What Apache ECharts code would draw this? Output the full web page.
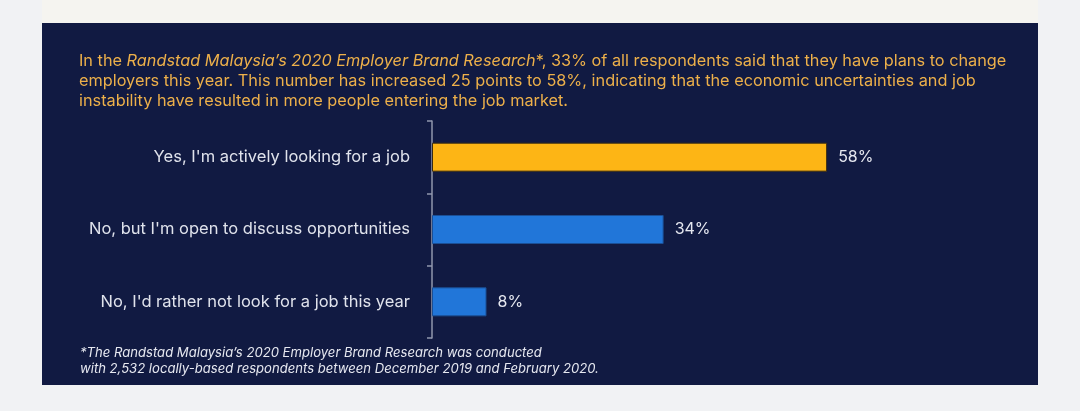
<!DOCTYPE html>
<html lang="en">
<head>
    <meta charset="UTF-8">
    <script src="https://cdn.jsdelivr.net/npm/echarts@6/dist/echarts.min.js"></script>
    <title>Employer Brand Research</title>
    <style>
        html, body { margin: 0; padding: 0; background: #f1f2f4; }
    </style>
</head>
<body>
<div id="main" style="width: 1080px;height: 411px"></div>
<script type="text/javascript">
    // data
    var categories = ["Yes, I'm actively looking for a job", "No, but I'm open to discuss opportunities", "No, I'd rather not look for a job this year"];
    var values = [58, 34, 8];
    var barColors = ['#fdb515', '#2176d9', '#2176d9'];

    var myChart = echarts.init(document.getElementById("main"));

    myChart.setOption({
        backgroundColor: '#f1f2f4',
        animation: false,
        textStyle: { fontFamily: 'Inter' },
        graphic: [
            { type: 'rect', z: -10, shape: { x: 42, y: 0, width: 996, height: 23 }, style: { fill: '#f5f4f0' } },
            { type: 'rect', z: -10, shape: { x: 42, y: 23, width: 996, height: 362 }, style: { fill: '#111a42' } },
            {
                type: 'text', left: 80, top: 345,
                style: {
                    text: "*The Randstad Malaysia\u2019s 2020 Employer Brand Research was conducted\nwith 2,532 locally-based respondents between December 2019 and February 2020.",
                    fill: '#e6e8f0', font: 'italic 13.1px Inter', lineHeight: 16
                }
            }
        ],
        title: {
            left: 74, top: 46,
            text: "In the {i|Randstad Malaysia\u2019s 2020 Employer Brand Research}*, 33% of all respondents said that they have plans to change\nemployers this year. This number has increased 25 points to 58%, indicating that the economic uncertainties and job\ninstability have resulted in more people entering the job market.",
            textStyle: {
                color: '#edb04a', fontSize: 16.3, fontWeight: 'normal', lineHeight: 20, fontFamily: 'Inter',
                rich: { i: { fontStyle: 'italic', color: '#edb04a', fontSize: 16.3, lineHeight: 20, fontFamily: 'Inter' } }
            }
        },
        grid: { left: 432, top: 121, height: 217, width: 545 },
        xAxis: { type: 'value', min: 0, max: 80, show: false },
        yAxis: {
            type: 'category', inverse: true, data: categories,
            axisLine: { lineStyle: { color: '#9097ad', width: 1.5 } },
            axisTick: { show: true, length: 5, lineStyle: { color: '#9097ad', width: 1.5 } },
            axisLabel: { color: '#e0e3ec', fontSize: 16.5, margin: 22 }
        },
        series: [{
            type: 'bar', barWidth: 29,
            data: values.map(function (v, i) {
                return { value: v, itemStyle: { color: barColors[i], borderColor: i === 0 ? '#3a2c12' : '#1b4f95', borderWidth: 1 } };
            }),
            label: {
                show: true, position: 'right', distance: 11, formatter: '{c}%',
                color: '#e6e8f0', fontSize: 16
            }
        }]
    });
</script>
</body>
</html>
